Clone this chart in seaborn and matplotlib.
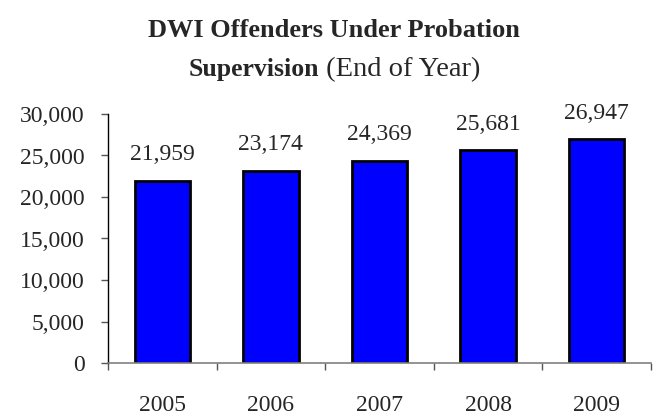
import matplotlib
matplotlib.use("Agg")
import matplotlib.pyplot as plt
import seaborn as sns
import pandas as pd
from matplotlib.ticker import FuncFormatter, FixedLocator

years = ["2005", "2006", "2007", "2008", "2009"]
offenders = [21959, 23174, 24369, 25681, 26947]

sns.set_style("white")
plt.rcParams["font.family"] = ["Liberation Serif", "DejaVu Serif"]

data = pd.DataFrame({"Year": years, "Offenders": offenders})

fig = plt.figure(figsize=(6.62, 4.19), dpi=100)
ax = fig.add_axes([108 / 662, (419 - 363) / 419, (651 - 108) / 662, (363 - 114) / 419])

sns.barplot(data=data, x="Year", y="Offenders", color="#0000FF", saturation=1,
            edgecolor="black", linewidth=2, width=0.51, ax=ax)

ax.set_ylim(0, 30000)
ax.set_xlim(-0.5, 4.5)
ax.set_yticks(range(0, 30001, 5000))
ax.yaxis.set_major_formatter(FuncFormatter(lambda v, p: f"{int(v):,}"))
ax.set_xlabel("")
ax.set_ylabel("")

for s in ["top", "right"]:
    ax.spines[s].set_visible(False)
ax.spines["left"].set_color("black")
ax.spines["left"].set_linewidth(1)
ax.spines["bottom"].set_color("#808080")
ax.spines["bottom"].set_linewidth(1.2)

ax.tick_params(axis="y", direction="out", length=5, width=1, color="#555555",
               labelsize=17, pad=12, left=True)
ax.tick_params(axis="x", which="major", length=0, labelsize=17, pad=23)
ax.xaxis.set_minor_locator(FixedLocator([-0.5, 0.5, 1.5, 2.5, 3.5, 4.5]))
ax.tick_params(axis="x", which="minor", direction="out", length=5, width=1,
               color="#555555", bottom=True)

for c in ax.containers:
    ax.bar_label(c, labels=[f"{v:,}" for v in offenders], padding=11, fontsize=17)

fig.text(0.505, 0.928, "DWI Offenders Under Probation", ha="center", va="center",
         fontsize=19, fontweight="bold")

# second title line: bold + normal part, centred together
t1 = fig.text(0, 0.835, "Supervision", ha="left", va="center", fontsize=18.5, fontweight="bold")
t2 = fig.text(0, 0.835, " (End of Year)", ha="left", va="center", fontsize=20.5)
fig.canvas.draw()
r = fig.canvas.get_renderer()
w1 = t1.get_window_extent(r).width / fig.bbox.width
w2 = t2.get_window_extent(r).width / fig.bbox.width
x0 = 0.505 - (w1 + w2) / 2
t1.set_x(x0)
t2.set_x(x0 + w1)

fig.savefig("out.png", dpi=100)
